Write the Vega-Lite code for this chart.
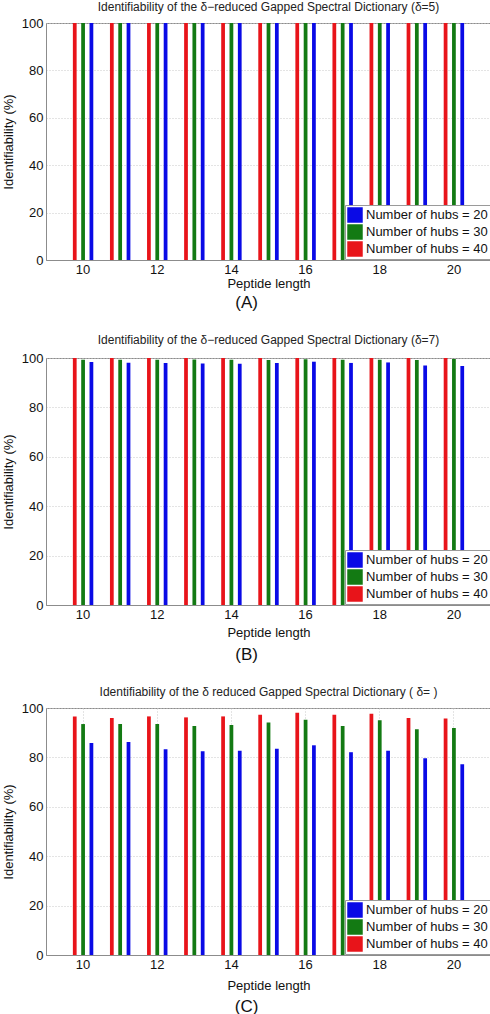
{
  "$schema": "https://vega.github.io/schema/vega-lite/v6.json",
  "padding": {"top": 0, "left": 1, "right": 0, "bottom": 0},
  "background": "white",
  "spacing": 22,
  "config": {
    "font": "Liberation Sans",
    "view": {"stroke": "#8c8c8c", "strokeWidth": 1},
    "title": {"fontSize": 12, "fontWeight": "normal", "color": "#222", "font": "Liberation Sans", "anchor": "middle"},
    "axis": {
      "labelFont": "Liberation Sans", "labelFontSize": 13, "labelColor": "#111",
      "titleFont": "Liberation Sans", "titleFontSize": 13, "titleFontWeight": "normal", "titleColor": "#111",
      "domainColor": "#8c8c8c", "ticks": false,
      "gridColor": "#c8c8c8", "gridDash": [1, 2], "gridWidth": 1
    },
    "legend": {
      "labelFont": "Liberation Sans", "labelFontSize": 13, "labelColor": "#111",
      "symbolType": "square", "symbolSize": 240, "symbolStrokeWidth": 0, "symbolOpacity": 1,
      "strokeColor": "#9a9a9a", "fillColor": "white", "padding": 2, "rowPadding": 1, "labelOffset": 3,
      "orient": "bottom-right", "offset": 1, "title": null
    }
  },
  "datasets": {
    "a": [
      {"length": 10, "series": "Number of hubs = 40", "value": 100}, {"length": 10, "series": "Number of hubs = 30", "value": 100}, {"length": 10, "series": "Number of hubs = 20", "value": 100},
      {"length": 11, "series": "Number of hubs = 40", "value": 100}, {"length": 11, "series": "Number of hubs = 30", "value": 100}, {"length": 11, "series": "Number of hubs = 20", "value": 100},
      {"length": 12, "series": "Number of hubs = 40", "value": 100}, {"length": 12, "series": "Number of hubs = 30", "value": 100}, {"length": 12, "series": "Number of hubs = 20", "value": 100},
      {"length": 13, "series": "Number of hubs = 40", "value": 100}, {"length": 13, "series": "Number of hubs = 30", "value": 100}, {"length": 13, "series": "Number of hubs = 20", "value": 100},
      {"length": 14, "series": "Number of hubs = 40", "value": 100}, {"length": 14, "series": "Number of hubs = 30", "value": 100}, {"length": 14, "series": "Number of hubs = 20", "value": 100},
      {"length": 15, "series": "Number of hubs = 40", "value": 100}, {"length": 15, "series": "Number of hubs = 30", "value": 100}, {"length": 15, "series": "Number of hubs = 20", "value": 100},
      {"length": 16, "series": "Number of hubs = 40", "value": 100}, {"length": 16, "series": "Number of hubs = 30", "value": 100}, {"length": 16, "series": "Number of hubs = 20", "value": 100},
      {"length": 17, "series": "Number of hubs = 40", "value": 100}, {"length": 17, "series": "Number of hubs = 30", "value": 100}, {"length": 17, "series": "Number of hubs = 20", "value": 100},
      {"length": 18, "series": "Number of hubs = 40", "value": 100}, {"length": 18, "series": "Number of hubs = 30", "value": 100}, {"length": 18, "series": "Number of hubs = 20", "value": 100},
      {"length": 19, "series": "Number of hubs = 40", "value": 100}, {"length": 19, "series": "Number of hubs = 30", "value": 100}, {"length": 19, "series": "Number of hubs = 20", "value": 100},
      {"length": 20, "series": "Number of hubs = 40", "value": 100}, {"length": 20, "series": "Number of hubs = 30", "value": 100}, {"length": 20, "series": "Number of hubs = 20", "value": 100}
    ],
    "b": [
      {"length": 10, "series": "Number of hubs = 40", "value": 100}, {"length": 10, "series": "Number of hubs = 30", "value": 99.3}, {"length": 10, "series": "Number of hubs = 20", "value": 98.4},
      {"length": 11, "series": "Number of hubs = 40", "value": 100}, {"length": 11, "series": "Number of hubs = 30", "value": 99.3}, {"length": 11, "series": "Number of hubs = 20", "value": 98.1},
      {"length": 12, "series": "Number of hubs = 40", "value": 100}, {"length": 12, "series": "Number of hubs = 30", "value": 99.3}, {"length": 12, "series": "Number of hubs = 20", "value": 98.0},
      {"length": 13, "series": "Number of hubs = 40", "value": 100}, {"length": 13, "series": "Number of hubs = 30", "value": 99.4}, {"length": 13, "series": "Number of hubs = 20", "value": 97.8},
      {"length": 14, "series": "Number of hubs = 40", "value": 100}, {"length": 14, "series": "Number of hubs = 30", "value": 99.3}, {"length": 14, "series": "Number of hubs = 20", "value": 97.7},
      {"length": 15, "series": "Number of hubs = 40", "value": 100}, {"length": 15, "series": "Number of hubs = 30", "value": 99.2}, {"length": 15, "series": "Number of hubs = 20", "value": 98.0},
      {"length": 16, "series": "Number of hubs = 40", "value": 100}, {"length": 16, "series": "Number of hubs = 30", "value": 99.5}, {"length": 16, "series": "Number of hubs = 20", "value": 98.5},
      {"length": 17, "series": "Number of hubs = 40", "value": 100}, {"length": 17, "series": "Number of hubs = 30", "value": 99.3}, {"length": 17, "series": "Number of hubs = 20", "value": 98.0},
      {"length": 18, "series": "Number of hubs = 40", "value": 100}, {"length": 18, "series": "Number of hubs = 30", "value": 99.3}, {"length": 18, "series": "Number of hubs = 20", "value": 98.2},
      {"length": 19, "series": "Number of hubs = 40", "value": 100}, {"length": 19, "series": "Number of hubs = 30", "value": 99.2}, {"length": 19, "series": "Number of hubs = 20", "value": 97.0},
      {"length": 20, "series": "Number of hubs = 40", "value": 100}, {"length": 20, "series": "Number of hubs = 30", "value": 99.6}, {"length": 20, "series": "Number of hubs = 20", "value": 96.8}
    ],
    "c": [
      {"length": 10, "series": "Number of hubs = 40", "value": 96.6}, {"length": 10, "series": "Number of hubs = 30", "value": 93.5}, {"length": 10, "series": "Number of hubs = 20", "value": 85.8},
      {"length": 11, "series": "Number of hubs = 40", "value": 96.0}, {"length": 11, "series": "Number of hubs = 30", "value": 93.5}, {"length": 11, "series": "Number of hubs = 20", "value": 86.2},
      {"length": 12, "series": "Number of hubs = 40", "value": 96.6}, {"length": 12, "series": "Number of hubs = 30", "value": 93.5}, {"length": 12, "series": "Number of hubs = 20", "value": 83.3},
      {"length": 13, "series": "Number of hubs = 40", "value": 96.2}, {"length": 13, "series": "Number of hubs = 30", "value": 92.7}, {"length": 13, "series": "Number of hubs = 20", "value": 82.5},
      {"length": 14, "series": "Number of hubs = 40", "value": 96.6}, {"length": 14, "series": "Number of hubs = 30", "value": 93.1}, {"length": 14, "series": "Number of hubs = 20", "value": 82.7},
      {"length": 15, "series": "Number of hubs = 40", "value": 97.3}, {"length": 15, "series": "Number of hubs = 30", "value": 94.1}, {"length": 15, "series": "Number of hubs = 20", "value": 83.5},
      {"length": 16, "series": "Number of hubs = 40", "value": 98.1}, {"length": 16, "series": "Number of hubs = 30", "value": 95.2}, {"length": 16, "series": "Number of hubs = 20", "value": 84.9},
      {"length": 17, "series": "Number of hubs = 40", "value": 97.3}, {"length": 17, "series": "Number of hubs = 30", "value": 92.7}, {"length": 17, "series": "Number of hubs = 20", "value": 82.1},
      {"length": 18, "series": "Number of hubs = 40", "value": 97.7}, {"length": 18, "series": "Number of hubs = 30", "value": 95.0}, {"length": 18, "series": "Number of hubs = 20", "value": 82.7},
      {"length": 19, "series": "Number of hubs = 40", "value": 96.0}, {"length": 19, "series": "Number of hubs = 30", "value": 91.4}, {"length": 19, "series": "Number of hubs = 20", "value": 79.7},
      {"length": 20, "series": "Number of hubs = 40", "value": 95.7}, {"length": 20, "series": "Number of hubs = 30", "value": 91.9}, {"length": 20, "series": "Number of hubs = 20", "value": 77.2}
    ]
  },
  "vconcat": [
    {
      "title": {"text": "(A)", "orient": "bottom", "fontSize": 17, "offset": 4, "color": "#111"},
      "resolve": {"legend": {"color": "independent"}},
      "vconcat": [
        {
          "title": {"text": "Identifiability of the δ−reduced Gapped Spectral Dictionary (δ=5)", "offset": 3},
          "data": {"name": "a"},
          "width": 445, "height": 237,
          "mark": {"type": "bar"},
          "encoding": {
            "x": {"field": "length", "type": "ordinal", "scale": {"paddingInner": 0, "paddingOuter": 0.5},
                  "axis": {"values": [10, 12, 14, 16, 18, 20], "labelAngle": 0, "title": "Peptide length", "titlePadding": 1, "labelPadding": 3, "grid": false, "bandPosition": 0.5}},
            "xOffset": {"field": "series", "type": "nominal", "scale": {"domain": ["Number of hubs = 40", "Number of hubs = 30", "Number of hubs = 20"], "paddingInner": 0.55, "paddingOuter": 1.0}},
            "y": {"field": "value", "type": "quantitative", "scale": {"domain": [0, 100], "nice": false},
                  "axis": {"values": [0, 20, 40, 60, 80, 100], "title": "Identifiability (%)", "titlePadding": 6, "labelPadding": 3, "grid": true}},
            "color": {"field": "series", "type": "nominal",
                      "scale": {"domain": ["Number of hubs = 20", "Number of hubs = 30", "Number of hubs = 40"], "range": ["#0a0ae6", "#137a13", "#e8141a"]},
                      "legend": {"orient": "bottom-right", "title": null, "offset": 1}}
          }
        }
      ]
    },
    {
      "title": {"text": "(B)", "orient": "bottom", "fontSize": 17, "offset": 7, "color": "#111"},
      "resolve": {"legend": {"color": "independent"}},
      "vconcat": [
        {
          "title": {"text": "Identifiability of the δ−reduced Gapped Spectral Dictionary (δ=7)", "offset": 5},
          "data": {"name": "b"},
          "width": 445, "height": 247,
          "mark": {"type": "bar"},
          "encoding": {
            "x": {"field": "length", "type": "ordinal", "scale": {"paddingInner": 0, "paddingOuter": 0.5},
                  "axis": {"values": [10, 12, 14, 16, 18, 20], "labelAngle": 0, "title": "Peptide length", "titlePadding": 5, "labelPadding": 3, "grid": false, "bandPosition": 0.5}},
            "xOffset": {"field": "series", "type": "nominal", "scale": {"domain": ["Number of hubs = 40", "Number of hubs = 30", "Number of hubs = 20"], "paddingInner": 0.55, "paddingOuter": 1.0}},
            "y": {"field": "value", "type": "quantitative", "scale": {"domain": [0, 100], "nice": false},
                  "axis": {"values": [0, 20, 40, 60, 80, 100], "title": "Identifiability (%)", "titlePadding": 6, "labelPadding": 3, "grid": true}},
            "color": {"field": "series", "type": "nominal",
                      "scale": {"domain": ["Number of hubs = 20", "Number of hubs = 30", "Number of hubs = 40"], "range": ["#0a0ae6", "#137a13", "#e8141a"]},
                      "legend": {"orient": "bottom-right", "title": null, "offset": 1}}
          }
        }
      ]
    },
    {
      "title": {"text": "(C)", "orient": "bottom", "fontSize": 17, "offset": 6, "color": "#111"},
      "resolve": {"legend": {"color": "independent"}},
      "vconcat": [
        {
          "title": {"text": "Identifiability of the δ reduced Gapped Spectral Dictionary ( δ= )", "offset": 3},
          "data": {"name": "c"},
          "width": 445, "height": 247,
          "mark": {"type": "bar"},
          "encoding": {
            "x": {"field": "length", "type": "ordinal", "scale": {"paddingInner": 0, "paddingOuter": 0.5},
                  "axis": {"values": [10, 12, 14, 16, 18, 20], "labelAngle": 0, "title": "Peptide length", "titlePadding": 8, "labelPadding": 3, "grid": true, "bandPosition": 0.5}},
            "xOffset": {"field": "series", "type": "nominal", "scale": {"domain": ["Number of hubs = 40", "Number of hubs = 30", "Number of hubs = 20"], "paddingInner": 0.55, "paddingOuter": 1.0}},
            "y": {"field": "value", "type": "quantitative", "scale": {"domain": [0, 100], "nice": false},
                  "axis": {"values": [0, 20, 40, 60, 80, 100], "title": "Identifiability (%)", "titlePadding": 6, "labelPadding": 3, "grid": true}},
            "color": {"field": "series", "type": "nominal",
                      "scale": {"domain": ["Number of hubs = 20", "Number of hubs = 30", "Number of hubs = 40"], "range": ["#0a0ae6", "#137a13", "#e8141a"]},
                      "legend": {"orient": "bottom-right", "title": null, "offset": 1}}
          }
        }
      ]
    }
  ],
  "resolve": {"legend": {"color": "independent"}}
}
